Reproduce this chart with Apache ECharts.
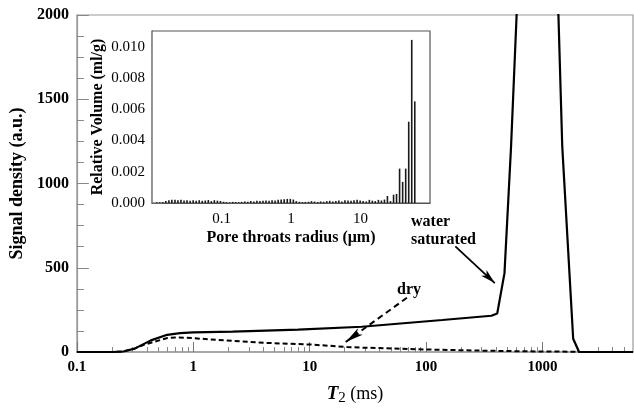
<!DOCTYPE html>
<html>
<head>
<meta charset="utf-8">
<script src="https://cdn.jsdelivr.net/npm/echarts@6/dist/echarts.min.js"></script>
<style>
html,body{margin:0;padding:0;background:#fff;}
#chart{width:634px;height:411px;}
</style>
</head>
<body>
<div id="chart"></div>
<script>
// ---- main chart data: T2 (ms) vs signal density ----
var waterT2 = [0.1, 0.2, 0.25, 0.313, 0.432, 0.597, 0.77, 1, 2.18, 7.96, 28, 138, 364, 409, 472, 537, 600, 850, 1372, 1480, 1837, 2065, 6000];
var waterSignal = [0, 0, 3, 20, 69, 102, 112, 116, 121, 133, 150, 190, 215, 229, 468, 1214, 2000, 3200, 2000, 1220, 79, 0, 0];
var dryT2 = [0.1, 0.2, 0.25, 0.313, 0.38, 0.6, 0.72, 1, 1.14, 4.2, 10.3, 21, 28, 99, 364, 1000, 1820, 2065, 6000];
var drySignal = [0, 0, 3, 20, 44, 83, 86, 83, 79, 54, 44, 30, 26, 15, 7, 3, 2, 0, 0];

// main axis ticks
var mainXMajor = [0.1, 1, 10, 100, 1000];
var mainXLabels = ['0.1', '1', '10', '100', '1000'];
var mainXMinor = [0.2,0.3,0.4,0.5,0.6,0.7,0.8,0.9, 2,3,4,5,6,7,8,9, 20,30,40,50,60,70,80,90, 200,300,400,500,600,700,800,900, 2000,3000,4000,5000];

// ---- inset data: pore throat radius (um) vs relative volume (ml/g) ----
var radius = [0.0117,0.0129,0.0143,0.0158,0.0175,0.0193,0.0214,0.0236,0.0261,0.0289,0.0319,0.0353,0.0391,0.0432,0.0478,0.0528,0.0584,0.0646,0.0714,0.0789,0.0873,0.0966,0.107,0.118,0.131,0.145,0.160,0.177,0.195,0.216,0.239,0.264,0.292,0.323,0.357,0.395,0.437,0.483,0.534,0.590,0.653,0.722,0.798,0.883,0.977,1.08,1.19,1.32,1.46,1.61,1.79,1.97,2.18,2.42,2.67,2.95,3.27,3.61,3.99,4.42,4.88,5.40,5.97,6.60,7.30,8.07,8.93,9.88,10.9,12.1,13.4,14.8,16.3,18.1,20.0,22.1,24.4,27.0,29.9,33.0,36.5,40.4,44.7,49.4,54.6,60.4];
var relVolume = [0.00005,0.00005,0.00006,0.00012,0.00018,0.0002,0.0002,0.00018,0.0002,0.00016,0.00018,0.00015,0.00017,0.00014,0.00018,0.00014,0.00016,0.00019,0.00012,0.00018,0.00015,0.00013,0.00008,0.00006,0.00004,0.00007,0.00006,0.00005,0.00007,0.0001,0.00008,0.00012,0.00009,0.00014,0.00012,0.00015,0.00016,0.00014,0.00018,0.00016,0.0002,0.00022,0.00024,0.00026,0.00026,0.00022,0.00012,0.00008,0.00006,0.00007,0.00008,0.00012,0.00009,0.00006,0.0001,0.00008,0.00012,0.00014,0.0001,0.00012,0.00016,0.0001,0.00018,0.00016,0.00014,0.00018,0.0002,0.00016,0.00012,0.0001,0.0002,0.00015,0.00012,0.0002,0.00016,0.00022,0.00045,0.00012,0.00053,0.00058,0.0022,0.00135,0.0022,0.0052,0.01043,0.0065];

var insetXMajor = [0.1, 1, 10];
var insetXLabels = ['0.1', '1', '10'];
var insetXMinor = [0.02,0.03,0.04,0.05,0.06,0.07,0.08,0.09, 0.2,0.3,0.4,0.5,0.6,0.7,0.8,0.9, 2,3,4,5,6,7,8,9, 20,30,40,50,60,70,80,90];

// annotation arrows (data coordinates)
var waterArrow = [[178.5, 627], [389.6, 409]];
var dryArrow = [[68.5, 322], [20.4, 59.5]];

function pairs(xs, ys){ return xs.map(function(x,i){ return [x, ys[i]]; }); }
function labelFor(vals, labels){
  return function(v){
    for (var i=0;i<vals.length;i++){ if (Math.abs(Math.log10(v)-Math.log10(vals[i]))<1e-6) return labels[i]; }
    return '';
  };
}

var serif = 'Liberation Serif';
var chart = echarts.init(document.getElementById('chart'), null, {renderer:'canvas'});
var option = {
  animation: false,
  backgroundColor: '#fff',
  textStyle: {fontFamily: serif, color: '#000'},
  grid: [
    {left: 68, right: 1, top: 15, bottom: 53, show: true, borderColor: '#9a9a9a', borderWidth: 1.2, backgroundColor: 'transparent'},
    {left: 152, right: 204, top: 31, bottom: 208, show: true, borderColor: '#555', borderWidth: 1.2, backgroundColor: '#fff', z: 5}
  ],
  xAxis: [
    {
      type: 'log', logBase: 10, gridIndex: 0, min: 0.1, max: 6000,
      name: '{t|T}{s|2}{m| (ms)}', nameLocation: 'middle', nameGap: 30,
      nameTextStyle: {
        rich: {
          t: {fontFamily: serif, fontStyle: 'italic', fontWeight: 'bold', fontSize: 19, color: '#000', lineHeight: 24},
          s: {fontFamily: serif, fontSize: 15, color: '#000', lineHeight: 24, padding: [9, 0, 0, 0]},
          m: {fontFamily: serif, fontSize: 18, color: '#000', lineHeight: 24}
        }
      },
      axisLine: {show: true, lineStyle: {color: '#9a9a9a', width: 1.5}},
      axisTick: {show: true, inside: true, length: 10, customValues: mainXMajor, lineStyle: {color: '#777', width: 1}},
      axisLabel: {show: true, customValues: mainXMajor, formatter: labelFor(mainXMajor, mainXLabels), align: 'center', alignMinLabel: 'center', fontFamily: serif, fontWeight: 'bold', fontSize: 15, color: '#000', margin: 8},
      splitLine: {show: false}
    },
    {
      type: 'log', logBase: 10, gridIndex: 0, min: 0.1, max: 6000, position: 'bottom',
      axisLine: {show: false},
      axisTick: {show: true, inside: true, length: 5, customValues: mainXMinor, lineStyle: {color: '#888', width: 1}},
      axisLabel: {show: false},
      splitLine: {show: false}
    },
    {
      type: 'log', logBase: 10, gridIndex: 1, min: 0.01, max: 100,
      name: 'Pore throats radius (μm)', nameLocation: 'middle', nameGap: 27,
      nameTextStyle: {fontFamily: serif, fontWeight: 'bold', fontSize: 16, color: '#000'},
      axisLine: {show: true, lineStyle: {color: '#555', width: 1.2}},
      axisTick: {show: true, inside: true, length: 11, customValues: insetXMajor, lineStyle: {color: '#777', width: 1}},
      axisLabel: {show: true, customValues: insetXMajor, formatter: labelFor(insetXMajor, insetXLabels), fontFamily: serif, fontSize: 15, color: '#000', margin: 9},
      splitLine: {show: false}
    },
    {
      type: 'log', logBase: 10, gridIndex: 1, min: 0.01, max: 100, position: 'bottom',
      axisLine: {show: false},
      axisTick: {show: true, inside: true, length: 6, customValues: insetXMinor, lineStyle: {color: '#888', width: 1}},
      axisLabel: {show: false},
      splitLine: {show: false}
    }
  ],
  yAxis: [
    {
      type: 'value', gridIndex: 0, min: 0, max: 2000, interval: 500,
      name: 'Signal density (a.u.)', nameLocation: 'middle', nameGap: 44,
      nameTextStyle: {fontFamily: serif, fontWeight: 'bold', fontSize: 18, color: '#000'},
      axisLine: {show: true, lineStyle: {color: '#9a9a9a', width: 1.2}},
      axisTick: {show: true, inside: true, length: 12, lineStyle: {color: '#888'}},
      minorTick: {show: true, splitNumber: 4, length: 7, lineStyle: {color: '#888'}},
      axisLabel: {fontFamily: serif, fontWeight: 'bold', fontSize: 16, color: '#000', margin: 8,
        formatter: function(v){ return String(v); }},
      splitLine: {show: false}
    },
    {
      type: 'value', gridIndex: 1, min: 0, max: 0.011, interval: 0.002,
      name: 'Relative Volume (ml/g)', nameLocation: 'middle', nameGap: 46,
      nameTextStyle: {fontFamily: serif, fontWeight: 'bold', fontSize: 16, color: '#000'},
      axisLine: {show: true, lineStyle: {color: '#555', width: 1.2}},
      axisTick: {show: true, inside: true, length: 11, lineStyle: {color: '#777'}},
      minorTick: {show: true, splitNumber: 2, length: 6, lineStyle: {color: '#888'}},
      axisLabel: {fontFamily: serif, fontSize: 15, color: '#000', margin: 7, showMaxLabel: false,
        formatter: function(v){ return v.toFixed(3); }},
      splitLine: {show: false}
    }
  ],
  series: [
    {
      name: 'dry', type: 'line', xAxisIndex: 0, yAxisIndex: 0, showSymbol: false, symbol: 'none', smooth: false,
      data: pairs(dryT2, drySignal), z: 3,
      lineStyle: {color: '#000', width: 2, type: [5, 3]},
      markLine: {
        silent: true, symbol: ['none', 'arrow'], symbolSize: 12, precision: 6,
        itemStyle: {color: '#000'},
        lineStyle: {color: '#000', width: 2, type: [6, 4]},
        label: {show: false},
        data: [[{coord: dryArrow[0]}, {coord: dryArrow[1], symbol: 'arrow', symbolSize: [6, 18]}]]
      }
    },
    {
      name: 'water saturated', type: 'line', xAxisIndex: 0, yAxisIndex: 0, showSymbol: false, symbol: 'none', smooth: false,
      data: pairs(waterT2, waterSignal), z: 4,
      lineStyle: {color: '#000', width: 2.2},
      markLine: {
        silent: true, symbol: ['none', 'arrow'], symbolSize: 12, precision: 6,
        itemStyle: {color: '#000'},
        lineStyle: {color: '#000', width: 1.8, type: 'solid'},
        label: {show: false},
        data: [[{coord: waterArrow[0]}, {coord: waterArrow[1], symbol: 'arrow', symbolSize: [6, 15]}]]
      }
    },
    {
      name: 'relative volume', type: 'bar', xAxisIndex: 2, yAxisIndex: 1, barWidth: 1.6,
      data: pairs(radius, relVolume), z: 6,
      itemStyle: {color: '#1a1a1a'}
    }
  ],
  graphic: [
    {type: 'text', left: 411, top: 214, z: 10, style: {text: 'water', font: 'bold 16px "Liberation Serif"', fill: '#000'}},
    {type: 'text', left: 411, top: 232, z: 10, style: {text: 'saturated', font: 'bold 16px "Liberation Serif"', fill: '#000'}},
    {type: 'text', left: 397, top: 282, z: 10, style: {text: 'dry', font: 'bold 16px "Liberation Serif"', fill: '#000'}}
  ]
};
chart.setOption(option);
</script>
</body>
</html>
